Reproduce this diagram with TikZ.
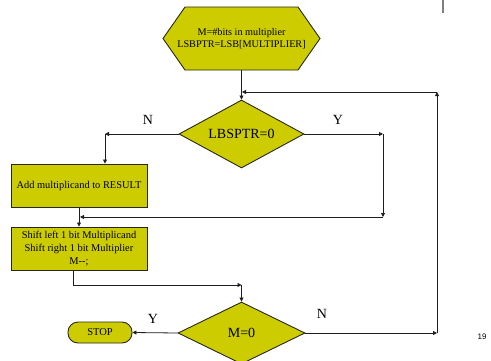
\documentclass[tikz,border=0pt]{standalone}
\usepackage{fontspec}
\setmainfont{Liberation Serif}
\newfontfamily\numfont{Liberation Sans}
\usetikzlibrary{shapes.geometric,arrows.meta}
\definecolor{boxfill}{RGB}{204,204,0}
\definecolor{boxline}{RGB}{40,40,20}
\definecolor{linecol}{RGB}{30,30,30}
\tikzset{
  flowbox/.style={draw=boxline,fill=boxfill,line width=0.9pt,minimum width=136pt,minimum height=43pt,inner sep=1pt,align=center,font=\fontsize{10.4}{13}\selectfont},
  decision/.style={draw=boxline,fill=boxfill,line width=0.9pt,diamond,aspect=1.85,inner sep=0pt,font=\fontsize{14}{16}\selectfont},
  term/.style={draw=boxline,fill=boxfill,line width=0.9pt,rounded corners=10pt,minimum width=64pt,minimum height=21pt,inner sep=1pt,font=\fontsize{10.5}{12}\selectfont},
  conn/.style={draw=linecol,line width=0.8pt},
  arr/.style={conn,-{Triangle[length=4pt,width=4pt]}},
  lbl/.style={font=\fontsize{14}{16}\selectfont,inner sep=0pt}
}
\begin{document}
\begin{tikzpicture}[x=1pt,y=-1pt]
\clip (0,0) rectangle (491,360);
\fill[white] (0,0) rectangle (491,360);
% top-right grey mark
\draw[gray,line width=2pt] (443,0) -- (443,13);
% hexagon start
\draw[boxline,fill=boxfill,line width=0.9pt] (163,38.5) -- (185,7) -- (298,7) -- (320,38.5) -- (298,70) -- (185,70) -- cycle;
\node[align=center,font=\fontsize{10.2}{12}\selectfont,inner sep=0pt] (hex) at (241.5,38.5) {M=\#bits in multiplier\\LSBPTR=LSB[MULTIPLIER]};
\coordinate (hexS) at (241.5,70);
% decisions
\node[decision,minimum width=125pt,minimum height=68pt] (d1) at (241.5,134) {LBSPTR=0};
\node[decision,minimum width=127pt,minimum height=62pt] (d2) at (241.5,333) {M=0};
% boxes
\node[flowbox] (b1) at (79,185.5) {Add multiplicand to RESULT};
\node[flowbox] (b2) at (79,248.5) {Shift left 1 bit Multiplicand\\Shift right 1 bit Multiplier\\M-{}-;};
\node[term] (stop) at (100,332.5) {STOP};
% coordinates
\coordinate (nl) at (105,134);
\coordinate (yr) at (383,134);
\coordinate (yb) at (383,217);
\coordinate (yj) at (80,217);
\coordinate (s1) at (73,270);
\coordinate (s2) at (73,285);
\coordinate (s3) at (241.5,285);
\coordinate (r1) at (437,333);
\coordinate (r2) at (437,92);
\coordinate (r3) at (242,92);
% connectors
\draw[arr] (hexS) -- (d1.north);
\draw[arr] (d1.west) -- (nl);
\draw[arr] (nl) -- (nl |- b1.north);
\draw[arr] (d1.east) -- (yr);
\draw[arr] (yr) -- (yb);
\draw[arr] (yb) -- (yj);
\draw[arr] (b1.south) -- (b2.north);
\draw[conn] (s1) -- (s2);
\draw[arr] (s2) -- (s3);
\draw[arr] (s3) -- (d2.north);
\draw[arr] (d2.west) -- (stop.east);
\draw[arr] (d2.east) -- (r1);
\draw[arr] (r1) -- (r2);
\draw[arr] (r2) -- (r3);
% labels
\node[lbl] (ln1) at (148,120) {N};
\node[lbl] (ly1) at (338,120) {Y};
\node[lbl] (ly2) at (153,319) {Y};
\node[lbl] (ln2) at (322,314) {N};
\node[font=\numfont\fontsize{8}{9}\selectfont,inner sep=0pt] (pg) at (482,337) {19};
\end{tikzpicture}
\end{document}
